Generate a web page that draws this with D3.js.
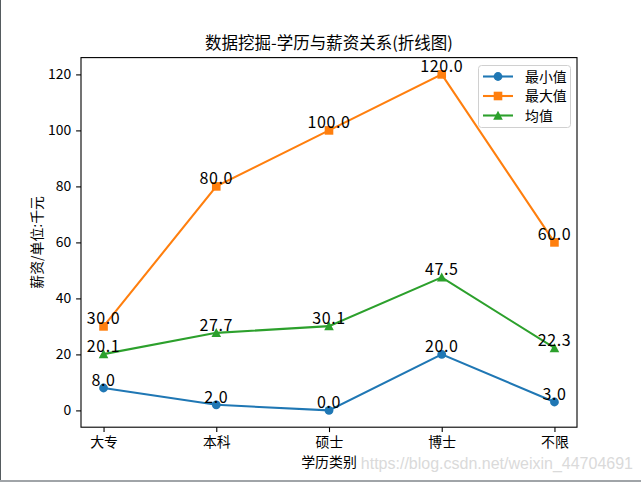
<!DOCTYPE html>
<html><head><meta charset="utf-8">
<script src="https://cdn.jsdelivr.net/npm/d3@7"></script>
<style>body{margin:0;background:#fff;}svg{display:block;}</style>
</head><body>
<script>
const categories = ["大专","本科","硕士","博士","不限"];
const minVals = [8.0, 2.0, 0.0, 20.0, 3.0];
const maxVals = [30.0, 80.0, 100.0, 120.0, 60.0];
const meanVals = [20.1, 27.7, 30.1, 47.5, 22.3];
const yTicks = [0, 20, 40, 60, 80, 100, 120];
const seriesNames = ["最小值","最大值","均值"];

const W = 641, H = 482;
const font = "'Noto Sans CJK SC', 'DejaVu Sans', sans-serif";
const svg = d3.select("body").append("svg").attr("width", W).attr("height", H);
svg.append("rect").attr("width", W).attr("height", H).attr("fill", "#fff");
// screenshot frame
svg.append("rect").attr("x",0).attr("y",0).attr("width",1).attr("height",481).attr("fill","#555b5f");
svg.append("rect").attr("x",0).attr("y",480).attr("width",W).attr("height",2).attr("fill","#a0a4a8");

const L = 81, R = 577, T = 57.6, B = 427.2;
const x = d3.scaleLinear().domain([-0.2, 4.2]).range([L, R]);
const y = d3.scaleLinear().domain([-6, 126]).range([B, T]);

const series = [
  {name: seriesNames[0], vals: minVals, color: "#1f77b4", marker: "circle"},
  {name: seriesNames[1], vals: maxVals, color: "#ff7f0e", marker: "square"},
  {name: seriesNames[2], vals: meanVals, color: "#2ca02c", marker: "triangle"}
];

function marker(g, type, cx, cy, color) {
  if (type === "circle") g.append("circle").attr("cx", cx).attr("cy", cy).attr("r", 4.4).attr("fill", color);
  else if (type === "square") g.append("rect").attr("x", cx-4.3).attr("y", cy-4.3).attr("width", 8.6).attr("height", 8.6).attr("fill", color);
  else g.append("path").attr("d", `M${cx},${cy-4.8}L${cx+4.8},${cy+4.2}L${cx-4.8},${cy+4.2}Z`).attr("fill", color);
}

// axes
const xAxis = d3.axisBottom(x).tickValues(d3.range(categories.length)).tickFormat(i => categories[i]).tickSize(4.9).tickPadding(4.9);
const gx = svg.append("g").attr("transform", `translate(0,${B})`).call(xAxis);
const yAxis = d3.axisLeft(y).tickValues(yTicks).tickSize(4.9).tickPadding(4.9);
const gy = svg.append("g").attr("transform", `translate(${L},0)`).call(yAxis);
[gx, gy].forEach(g => {
  g.select(".domain").remove();
  g.selectAll("line").attr("stroke", "#000").attr("stroke-width", 1.1);
  g.selectAll("text").attr("font-family", font).attr("font-size", 13.9).attr("fill", "#000");
});

const plot = svg.append("g");
const line = d3.line().x((d,i) => x(i)).y(d => y(d));
series.forEach(s => {
  plot.append("path").attr("d", line(s.vals)).attr("fill", "none").attr("stroke", s.color).attr("stroke-width", 2.08);
  s.vals.forEach((v,i) => marker(plot, s.marker, x(i), y(v), s.color));
});
series.forEach(s => {
  s.vals.forEach((v,i) => {
    plot.append("text").attr("x", x(i)).attr("y", y(v) - 2).attr("text-anchor", "middle")
      .attr("font-family", font).attr("font-size", 16).attr("letter-spacing", 0.6).attr("fill", "#000").text(v.toFixed(1));
  });
});

// frame
svg.append("rect").attr("x", L).attr("y", T).attr("width", R-L).attr("height", B-T)
  .attr("fill", "none").attr("stroke", "#000").attr("stroke-width", 1.1);

// title & labels
svg.append("text").attr("x", (L+R)/2).attr("y", 49).attr("text-anchor", "middle")
  .attr("font-family", font).attr("font-size", 16.5).attr("fill", "#000").text("数据挖掘-学历与薪资关系(折线图)");
svg.append("text").attr("x", (L+R)/2).attr("y", 467).attr("text-anchor", "middle")
  .attr("font-family", font).attr("font-size", 13.9).attr("fill", "#000").text("学历类别");
svg.append("text").attr("transform", `translate(42,${(T+B)/2}) rotate(-90)`).attr("text-anchor", "middle")
  .attr("font-family", font).attr("font-size", 13.9).attr("fill", "#000").text("薪资/单位:千元");

// legend
const lg = svg.append("g");
lg.append("rect").attr("x", 478.5).attr("y", 65.5).attr("width", 92).attr("height", 62).attr("rx", 3)
  .attr("fill", "#fff").attr("fill-opacity", 0.8).attr("stroke", "#d0d0d0").attr("stroke-width", 1);
series.forEach((s, k) => {
  const yy = 76.5 + k*19.5;
  lg.append("line").attr("x1", 483).attr("x2", 513).attr("y1", yy).attr("y2", yy).attr("stroke", s.color).attr("stroke-width", 2.08);
  marker(lg, s.marker, 498, yy, s.color);
  lg.append("text").attr("x", 525).attr("y", yy + 5).attr("font-family", font).attr("font-size", 13.9).attr("fill", "#000").text(s.name);
});

// watermark
svg.append("text").attr("x", 633).attr("y", 469).attr("text-anchor", "end")
  .attr("font-family", "'Liberation Sans', Arial, sans-serif").attr("font-size", 16).attr("fill", "#dadada")
  .text("https://blog.csdn.net/weixin_44704691");
</script>
</body></html>
